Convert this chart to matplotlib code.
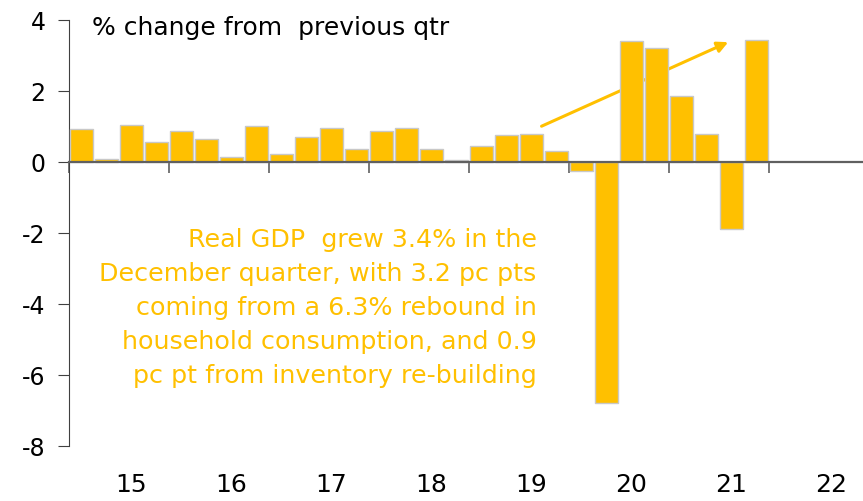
import numpy as np
import matplotlib.pyplot as plt
import matplotlib.transforms as mtransforms

# quarterly real GDP growth, 2015Q1 .. 2021Q4
quarters = [f"{y}Q{q}" for y in range(2015, 2022) for q in range(1, 5)]
growth = [0.93, 0.10, 1.05, 0.56, 0.87, 0.66, 0.14, 1.02,
          0.24, 0.71, 0.97, 0.38, 0.87, 0.95, 0.38, 0.06,
          0.46, 0.77, 0.78, 0.32, -0.26, -6.79, 3.40, 3.22,
          1.85, 0.80, -1.88, 3.43]
year_labels = ["15", "16", "17", "18", "19", "20", "21", "22"]

gold = "#FFC000"

fig = plt.figure(figsize=(8.63, 5.01), dpi=100)
ax = fig.add_axes([0.080, 0.1088, 0.920, 0.8512])

x = np.arange(len(growth))
ax.bar(x, growth, width=0.92, color=gold, edgecolor="#C8C8C8", linewidth=1.0, zorder=3)

ax.set_xlim(-0.5, 31.26)
ax.set_ylim(-8, 4)
ax.set_yticks(np.arange(-8, 5, 2))
ax.set_yticklabels([str(v) for v in range(-8, 5, 2)], fontsize=17)

# year boundary ticks on the zero line, labels under the plot
ax.spines["bottom"].set_position(("data", 0))
ax.spines["bottom"].set_color("#606060")
ax.spines["bottom"].set_linewidth(1.6)
ax.spines["bottom"].set_zorder(4)
ax.spines["left"].set_color("#404040")
ax.spines["left"].set_linewidth(0.8)
ax.spines["top"].set_visible(False)
ax.spines["right"].set_visible(False)
ax.set_xticks(np.arange(-0.5, 31, 4))
ax.set_xticklabels([])
ax.tick_params(axis="x", direction="out", length=8, width=1.2, color="#606060")
ax.tick_params(axis="y", direction="out", length=8, width=0.8, color="#404040", pad=9)

trans = mtransforms.blended_transform_factory(ax.transData, ax.transAxes)
for i, lab in enumerate(year_labels):
    ax.text(2 + 4 * i, -0.09, lab, transform=trans, ha="center", va="center", fontsize=18)

ax.text(0.42, 3.78, "% change from  previous qtr", fontsize=18, va="center", ha="left")

ax.annotate("", xy=(25.97, 3.41), xytext=(18.3, 0.98),
            arrowprops=dict(arrowstyle="-|>", color=gold, lw=2.2, mutation_scale=16),
            zorder=2)

ax.text(18.2, -4.11,
        "Real GDP  grew 3.4% in the\nDecember quarter, with 3.2 pc pts\n"
        "coming from a 6.3% rebound in\nhousehold consumption, and 0.9\n"
        "pc pt from inventory re-building",
        color=gold, fontsize=18.3, ha="right", va="center", multialignment="right",
        linespacing=1.53)

fig.savefig("out.png", dpi=100)
